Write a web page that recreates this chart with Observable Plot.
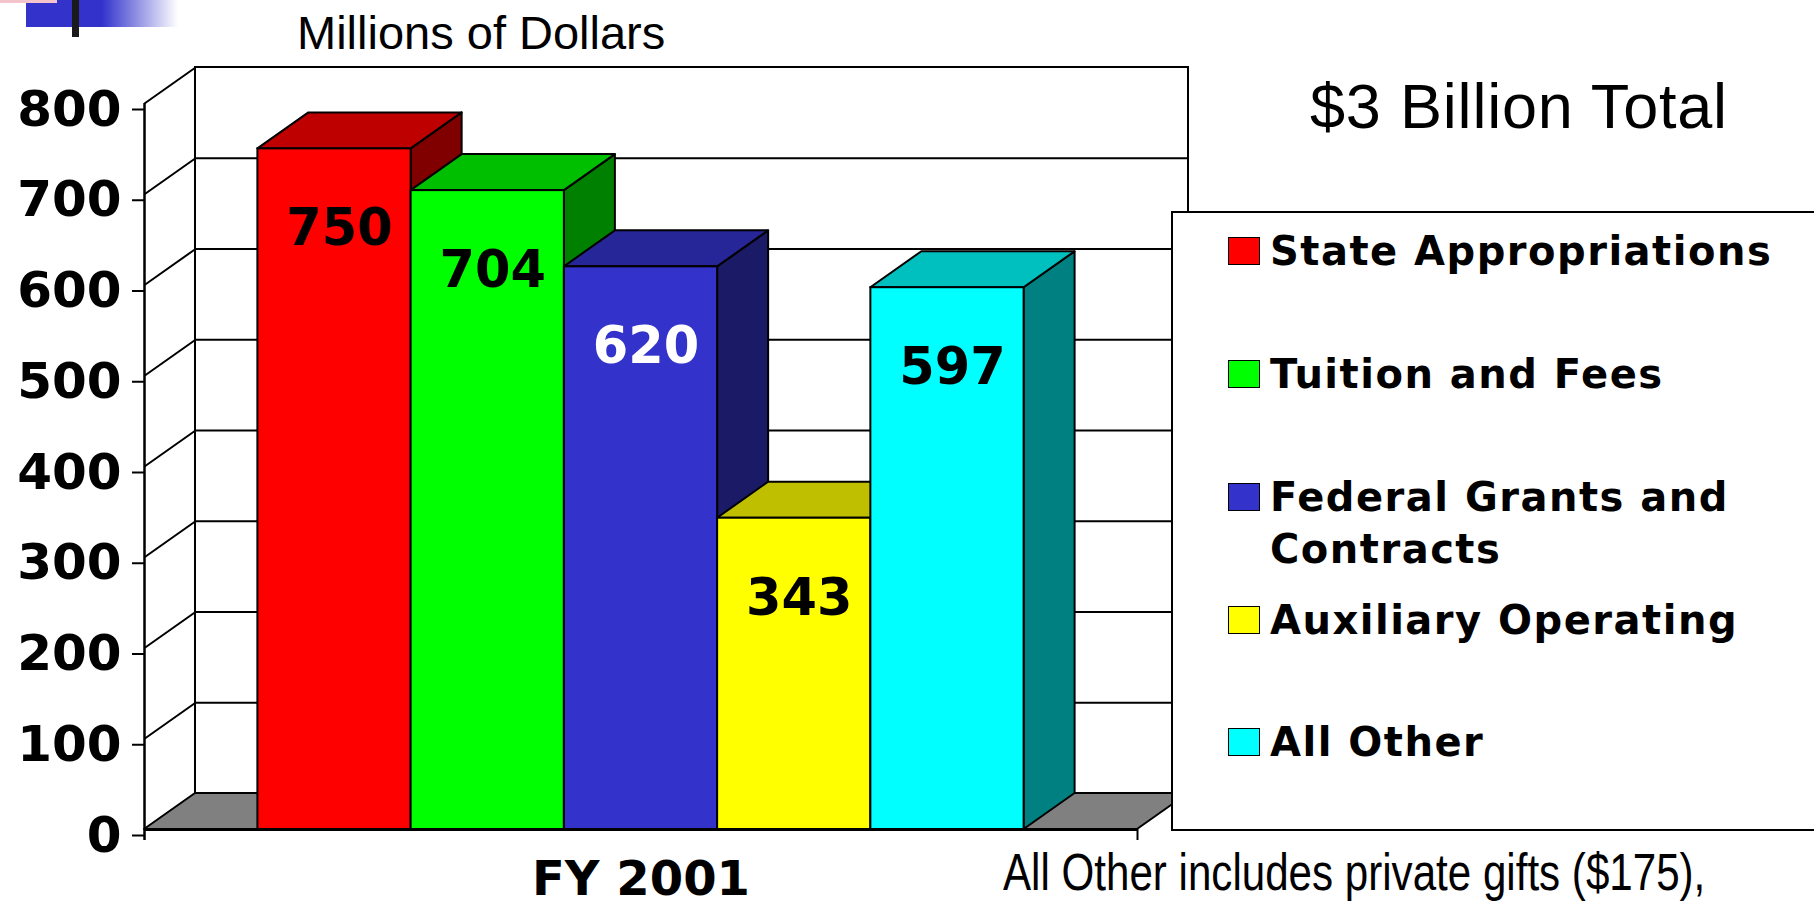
<!DOCTYPE html>
<html>
<head>
<meta charset="utf-8">
<script src="https://cdn.jsdelivr.net/npm/d3@7"></script>
<script src="https://cdn.jsdelivr.net/npm/@observablehq/plot@0.6"></script>
<style>
  html, body { margin: 0; padding: 0; background: #fff; overflow: hidden; width: 1814px; height: 906px; }
  #page { position: relative; width: 1814px; height: 906px; }
  #chart { position: absolute; left: 0; top: 0; }
  .t { position: absolute; white-space: nowrap; line-height: 1; color: #000; font-family: "Liberation Sans", Arial, sans-serif; }
  #units { left: 297px; top: 9px; font-size: 47px; }
  #total { left: 1310px; top: 75px; font-size: 63px; letter-spacing: 0.8px; }
  #note { left: 1003px; top: 846px; font-size: 52px; transform: scaleX(0.81); transform-origin: 0 0; }
  #deco-pink { position: absolute; left: 0; top: 0; width: 57px; height: 3px; background: #f4c4cc; }
  #deco-blue { position: absolute; left: 26px; top: 0; width: 152px; height: 27px;
    background: linear-gradient(to right, #3333cc 0%, #3333cc 50%, #ffffff 100%); }
  #deco-bar { position: absolute; left: 72px; top: 0; width: 7px; height: 37px; background: #1a1a1a; }
  #legend { position: absolute; left: 1171px; top: 211px; width: 720px; height: 620px; box-sizing: border-box;
    border: 2px solid #000; background: #fff; font-family: "DejaVu Sans", Verdana, sans-serif; font-weight: bold; }
  .sw { position: absolute; width: 32px; height: 28px; box-sizing: border-box; border: 1.5px solid #000; }
  .lt { position: absolute; width: 520px; font-size: 40px; line-height: 52px; letter-spacing: 1.5px; color: #000; }
</style>
</head>
<body>
<div id="page">
  <div id="deco-blue"></div>
  <div id="deco-pink"></div>
  <div id="deco-bar"></div>
  <div id="chart"></div>
  <div class="t" id="units">Millions of Dollars</div>
  <div class="t" id="total">$3 Billion Total</div>
  <div id="legend"></div>
  <div class="t" id="note">All Other includes private gifts ($175),</div>
</div>
<script>
// ---- data ----
const categories = ["State Appropriations", "Tuition and Fees", "Federal Grants and Contracts", "Auxiliary Operating", "All Other"];
const values = [750, 704, 620, 343, 597];
const frontColors = ["#ff0000", "#00ff00", "#3333cc", "#ffff00", "#00ffff"];
const topColors = ["#bf0000", "#00bf00", "#262699", "#bfbf00", "#00bfbf"];
const sideColors = ["#800000", "#008000", "#1a1a66", "#808000", "#008080"];
const labelColors = ["black", "black", "white", "black", "black"];
const yTicks = [0, 100, 200, 300, 400, 500, 600, 700, 800];
const xCategory = "FY 2001";

// ---- layout ----
const W = 1814, H = 906;
const mL = 144, mR = 677, mT = 103, mB = 77;
const xDomain = [-0.74, categories.length + 0.74];
const yDomain = [0, 800];
const kx = (W - mL - mR) / (xDomain[1] - xDomain[0]);
const ky = (H - mT - mB) / (yDomain[1] - yDomain[0]);
const DX = 51 / kx, DY = 36 / ky;   // oblique depth of the 3-D box
const xmin = xDomain[0], xmax = xDomain[1];
const ext = 11 / ky;

const bars = categories.map((name, i) => ({
  name, i, v: values[i], front: frontColors[i], top: topColors[i], side: sideColors[i], label: labelColors[i]
}));
const sides = bars.flatMap(b => [
  {name: b.name, fill: b.side, x: b.i + 1, y1: 0, y2: b.v},
  {name: b.name, fill: b.side, x: b.i + 1 + DX, y1: DY, y2: b.v + DY}
]);
const tops = bars.flatMap(b => [
  {name: b.name, fill: b.top, y: b.v, x1: b.i, x2: b.i + 1},
  {name: b.name, fill: b.top, y: b.v + DY, x1: b.i + DX, x2: b.i + 1 + DX}
]);
const floor = [
  {y: 0, x1: xmin, x2: xmax},
  {y: DY, x1: xmin + DX, x2: xmax + DX}
];

const chart = Plot.plot({
  width: W, height: H,
  marginLeft: mL, marginRight: mR, marginTop: mT, marginBottom: mB,
  x: {domain: xDomain, axis: null},
  y: {domain: yDomain, axis: null},
  color: {type: "identity"},
  style: {fontFamily: "'DejaVu Sans', Verdana, sans-serif", background: "transparent", color: "black", overflow: "visible"},
  marks: [
    // back wall
    Plot.rect([0], {x1: xmin + DX, x2: xmax + DX, y1: DY, y2: yDomain[1] + DY, fill: "white", stroke: "black", strokeWidth: 2}),
    Plot.ruleY(yTicks.slice(1, -1), {y: d => d + DY, x1: xmin + DX, x2: xmax + DX, stroke: "black", strokeWidth: 2}),
    // side wall gridlines
    Plot.link(yTicks, {x1: xmin, y1: d => d, x2: xmin + DX, y2: d => d + DY, stroke: "black", strokeWidth: 2}),
    // floor
    Plot.areaX(floor, {y: "y", x1: "x1", x2: "x2", fill: "#808080", stroke: "black", strokeWidth: 2}),
    // axis lines
    Plot.ruleX([xmin], {y1: -ext, y2: yDomain[1], stroke: "black", strokeWidth: 2.5}),
    Plot.ruleX([xmax], {y1: -ext, y2: 0, stroke: "black", strokeWidth: 2}),
    // bars
    Plot.areaY(sides, {x: "x", y1: "y1", y2: "y2", z: "name", fill: "fill", stroke: "black", strokeWidth: 2}),
    Plot.areaX(tops, {y: "y", x1: "x1", x2: "x2", z: "name", fill: "fill", stroke: "black", strokeWidth: 2}),
    Plot.rect(bars, {x1: d => d.i, x2: d => d.i + 1, y1: 0, y2: "v", fill: "front", stroke: "black", strokeWidth: 2}),
    Plot.ruleY([0], {x1: xmin, x2: xmax, stroke: "black", strokeWidth: 3}),
    // y axis
    Plot.axisY(yTicks, {tickSize: 12, tickPadding: 11, fontSize: 50, fontWeight: "bold", stroke: "black", strokeWidth: 2, dy: 6, label: null}),
    // value labels
    Plot.text(bars, {x: d => d.i + 0.5, y: "v", text: d => String(d.v), fill: "label", fontSize: 51, fontWeight: "bold", dx: 5, dy: 80}),
    // category label
    Plot.text([xCategory], {x: categories.length / 2, y: 0, text: d => d, fontSize: 48, fontWeight: "bold", dy: 50})
  ]
});
document.getElementById("chart").appendChild(chart);

// ---- legend ----
const legend = document.getElementById("legend");
const rowCenters = [40, 163, 286, 409, 531];
categories.forEach((name, i) => {
  const sw = document.createElement("div");
  sw.className = "sw";
  sw.style.left = "55px";
  sw.style.top = (rowCenters[i] - 14 - 2) + "px";
  sw.style.background = frontColors[i];
  legend.appendChild(sw);
  const t = document.createElement("div");
  t.className = "lt";
  t.style.left = "97px";
  t.style.top = (rowCenters[i] + 14 - 40 - 2) + "px";
  t.textContent = name;
  legend.appendChild(t);
});
</script>
</body>
</html>
